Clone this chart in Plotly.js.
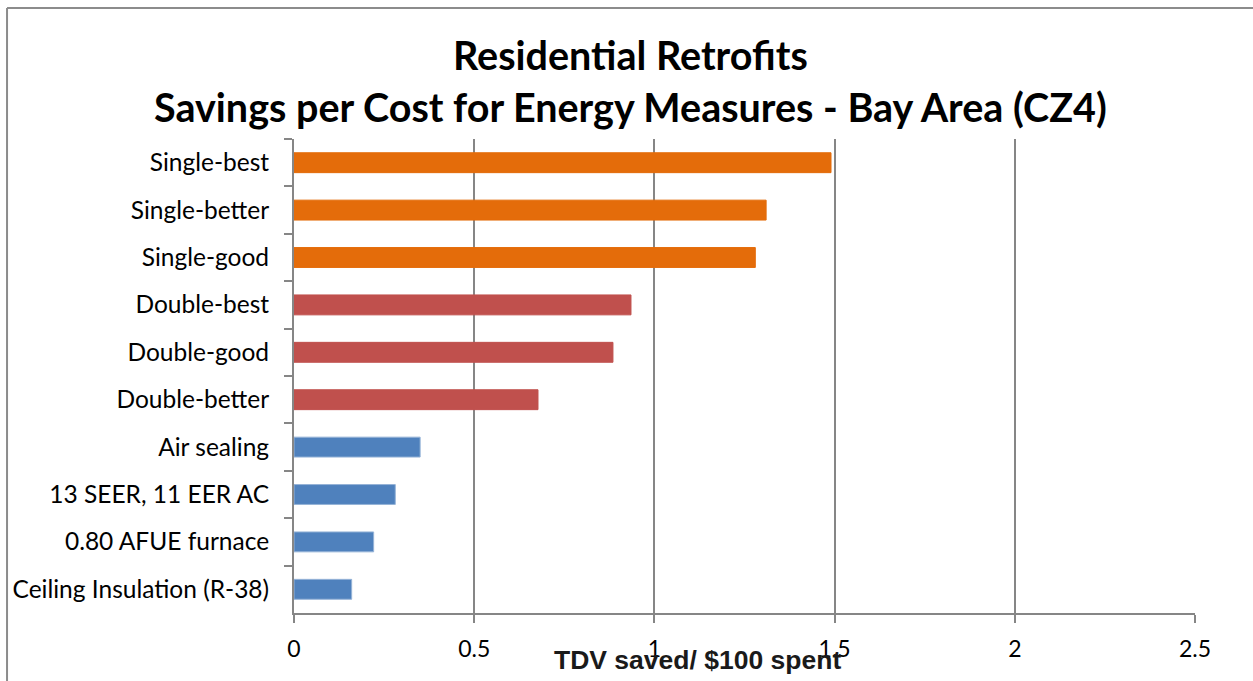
<!DOCTYPE html>
<html>
<head>
<meta charset="utf-8">
<script src="https://cdn.plot.ly/plotly-3.0.1.min.js"></script>
<style>html,body{margin:0;padding:0;background:#fff;}#chart{width:1253px;height:681px;}</style>
</head>
<body>
<div id="chart"></div>
<script>
var categories = ["Single-best","Single-better","Single-good","Double-best","Double-good","Double-better","Air sealing","13 SEER, 11 EER AC","0.80 AFUE furnace","Ceiling Insulation (R-38)"];
var values = [1.49, 1.31, 1.28, 0.935, 0.885, 0.677, 0.35, 0.281, 0.221, 0.16];
var groups = ["single","single","single","double","double","double","measure","measure","measure","measure"];
var xTicks = [0, 0.5, 1, 1.5, 2, 2.5];
var xTickLabels = ["0","0.5","1","1.5","2","2.5"];
var titleLines = ["Residential Retrofits", "Savings per Cost for Energy Measures - Bay Area (CZ4)"];
var xTitle = "TDV saved/ $100 spent";

var groupColor = {single:"#E46C0A", double:"#C0504D", measure:"#4F81BD"};
var groupLine = {single:"#E46C0A", double:"#C0504D", measure:"#95B3D7"};

var trace = {
  type: "bar",
  orientation: "h",
  y: categories,
  x: values,
  width: 0.42,
  marker: {
    color: groups.map(function(g){return groupColor[g];}),
    line: {color: groups.map(function(g){return groupLine[g];}), width: 1}
  },
  hoverinfo: "x+y"
};

var font = "Lato, 'Open Sans', sans-serif";
var layout = {
  width: 1253, height: 681,
  margin: {l: 294, r: 58, t: 139, b: 68},
  paper_bgcolor: "#fff", plot_bgcolor: "#fff",
  showlegend: false,
  xaxis: {
    range: [0, 2.5],
    tickvals: xTicks, ticktext: xTickLabels,
    showgrid: true, gridcolor: "#868686", gridwidth: 2,
    showline: true, linecolor: "#868686", linewidth: 2,
    ticks: "outside", ticklen: 8, tickcolor: "#868686", tickwidth: 2,
    tickfont: {family: font, size: 23, color: "#000"},
    ticklabelstandoff: 6,
    zeroline: false, fixedrange: true
  },
  yaxis: {
    type: "category",
    autorange: "reversed",
    showline: true, linecolor: "#868686", linewidth: 2,
    ticks: "outside", ticklen: 8, tickcolor: "#868686", tickwidth: 2,
    tickson: "boundaries",
    tickfont: {family: font, size: 24.5, color: "#000"},
    ticklabelstandoff: 18,
    showgrid: false, zeroline: false, fixedrange: true
  },
  annotations: [
    {
      text: "<b>" + titleLines[0] + "</b>",
      xref: "paper", yref: "paper",
      x: (630 - 294) / 901, y: (613 - 55) / 474, xanchor: "center", yanchor: "middle",
      showarrow: false,
      font: {family: font, size: 39.5, color: "#000"}
    },
    {
      text: "<b>" + titleLines[1] + "</b>",
      xref: "paper", yref: "paper",
      x: (630 - 294) / 901, y: (613 - 107) / 474, xanchor: "center", yanchor: "middle",
      showarrow: false,
      font: {family: font, size: 39.5, color: "#000"}
    },
    {
      text: "<b>" + xTitle + "</b>",
      xref: "paper", yref: "paper",
      x: (697 - 294) / 901, y: (613 - 660) / 474, xanchor: "center", yanchor: "middle",
      showarrow: false,
      font: {family: "'Liberation Sans', Arial, sans-serif", size: 26.5, color: "#1a1a1a"}
    }
  ],
  shapes: [
    {type: "line", xref: "paper", yref: "paper", x0: -0.3185, x1: 1.2, y0: 1.2765, y1: 1.2765, line: {color: "#8c8c8c", width: 2}},
    {type: "line", xref: "paper", yref: "paper", x0: -0.3185, x1: -0.3185, y0: -0.2, y1: 1.2765, line: {color: "#8c8c8c", width: 2}}
  ]
};

Plotly.newPlot("chart", [trace], layout, {displayModeBar: false});
</script>
</body>
</html>
